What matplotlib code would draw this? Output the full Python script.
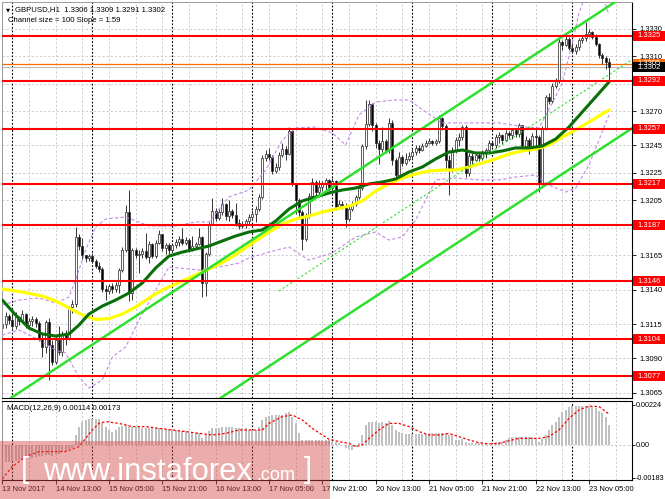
import matplotlib
matplotlib.use("Agg")
import matplotlib.pyplot as plt
import matplotlib.transforms as mtransforms
from matplotlib.patches import Rectangle
import numpy as np

plt.rcParams['font.family'] = ['Liberation Sans', 'DejaVu Sans']

# ---------------- text ----------------
symbol_title = "GBPUSD,H1  1.3306 1.3309 1.3291 1.3302"
channel_text = "Channel size = 100 Slope = 1.59"
macd_title = "MACD(12,26,9) 0.00114 0.00173"

# ---------------- candles (H1, bar 0 = 13 Nov 21:00) ----------------
first_open = 1.31121
closes = [
    1.31150, 1.31208, 1.31179, 1.31136, 1.31201, 1.31172, 1.31223, 1.31143, 1.31172, 1.31187,
    1.31158, 1.31048, 1.30983, 1.31165, 1.30997, 1.30874, 1.31034, 1.30946, 1.31078, 1.31041,
    1.31274, 1.31296, 1.31784, 1.31718, 1.31653, 1.31631, 1.31645, 1.31609, 1.31573, 1.31551,
    1.31405, 1.31391, 1.31427, 1.31405, 1.31434, 1.31543, 1.31689, 1.31966, 1.31376, 1.31689,
    1.31653, 1.31660, 1.31682, 1.31638, 1.31733, 1.31645, 1.31740, 1.31805, 1.31704, 1.31725,
    1.31689, 1.31725, 1.31747, 1.31769, 1.31740, 1.31762, 1.31696, 1.31718, 1.31733, 1.31784,
    1.31449, 1.31660, 1.31878, 1.31973, 1.31922, 1.31966, 1.32024, 1.31936, 1.31973, 1.31944,
    1.31886, 1.31864, 1.31878, 1.31900, 1.31929, 1.31951, 1.31987, 1.32075, 1.32359, 1.32388,
    1.32366, 1.32264, 1.32293, 1.32381, 1.32424, 1.32388, 1.32555, 1.32177, 1.32053, 1.31966,
    1.31769, 1.31944, 1.32082, 1.32184, 1.32111, 1.32148, 1.32170, 1.32199, 1.32140, 1.32191,
    1.32002, 1.32024, 1.32009, 1.31915, 1.31987, 1.32024, 1.32075, 1.32140, 1.32446, 1.32606,
    1.32752, 1.32599, 1.32468, 1.32424, 1.32482, 1.32417, 1.32614, 1.32344, 1.32235, 1.32366,
    1.32322, 1.32352, 1.32373, 1.32402, 1.32432, 1.32417, 1.32446, 1.32468, 1.32482, 1.32468,
    1.32482, 1.32650, 1.32592, 1.32344, 1.32286, 1.32417, 1.32490, 1.32512, 1.32584, 1.32250,
    1.32373, 1.32344, 1.32381, 1.32359, 1.32395, 1.32417, 1.32468, 1.32453, 1.32512, 1.32526,
    1.32490, 1.32541, 1.32526, 1.32563, 1.32533, 1.32599, 1.32446, 1.32490, 1.32446, 1.32519,
    1.32512, 1.32177, 1.32577, 1.32803, 1.32774, 1.32883, 1.32919, 1.33203, 1.33181, 1.33225,
    1.33159, 1.33138, 1.33167, 1.33218, 1.33233, 1.33262, 1.33276, 1.33240, 1.33189, 1.33109,
    1.33087, 1.33060, 1.33020]
highs = [
    1.31194, 1.31238, 1.31223, 1.31230, 1.31238, 1.31208, 1.31252, 1.31230, 1.31194, 1.31208,
    1.31201, 1.31172, 1.31078, 1.31179, 1.31194, 1.31034, 1.31063, 1.31136, 1.31099, 1.31107,
    1.31281, 1.31325, 1.31856, 1.31805, 1.31776, 1.31653, 1.31660, 1.31667, 1.31624, 1.31602,
    1.31565, 1.31434, 1.31442, 1.31449, 1.31456, 1.31558, 1.31711, 1.32017, 1.32126, 1.31704,
    1.31704, 1.31689, 1.31704, 1.31813, 1.31755, 1.31740, 1.31762, 1.31835, 1.31805, 1.31740,
    1.31740, 1.31740, 1.31769, 1.31791, 1.31849, 1.31784, 1.31776, 1.31791, 1.31747, 1.31849,
    1.31791, 1.31674, 1.31893, 1.32068, 1.31995, 1.31987, 1.32068, 1.32031, 1.32053, 1.31987,
    1.32031, 1.31915, 1.31900, 1.31915, 1.31951, 1.31980, 1.32009, 1.32097, 1.32381, 1.32417,
    1.32432, 1.32381, 1.32322, 1.32402, 1.32468, 1.32446, 1.32584, 1.32563, 1.32177, 1.32068,
    1.31980, 1.31958, 1.32104, 1.32213, 1.32199, 1.32199, 1.32191, 1.32213, 1.32206, 1.32213,
    1.32199, 1.32053, 1.32046, 1.32031, 1.32017, 1.32046, 1.32090, 1.32162, 1.32461, 1.32781,
    1.32781, 1.32759, 1.32614, 1.32490, 1.32584, 1.32497, 1.32650, 1.32635, 1.32359, 1.32402,
    1.32381, 1.32395, 1.32402, 1.32424, 1.32453, 1.32453, 1.32468, 1.32490, 1.32504, 1.32490,
    1.32497, 1.32672, 1.32657, 1.32606, 1.32381, 1.32439, 1.32512, 1.32541, 1.32599, 1.32599,
    1.32395, 1.32395, 1.32402, 1.32395, 1.32417, 1.32432, 1.32490, 1.32482, 1.32533, 1.32548,
    1.32533, 1.32563, 1.32555, 1.32577, 1.32555, 1.32614, 1.32599, 1.32519, 1.32504, 1.32541,
    1.32584, 1.32526, 1.32592, 1.32817, 1.32832, 1.32905, 1.32941, 1.33233, 1.33218, 1.33269,
    1.33240, 1.33218, 1.33189, 1.33233, 1.33254, 1.33349, 1.33298, 1.33284, 1.33262, 1.33196,
    1.33123, 1.33101, 1.33090]
lows = [
    1.31099, 1.31121, 1.31150, 1.31107, 1.31114, 1.31143, 1.31165, 1.31121, 1.31114, 1.31136,
    1.31128, 1.31026, 1.30910, 1.30939, 1.30743, 1.30852, 1.30859, 1.30925, 1.30917, 1.30997,
    1.31034, 1.31230, 1.31274, 1.31689, 1.31624, 1.31602, 1.31609, 1.31594, 1.31558, 1.31529,
    1.31383, 1.31325, 1.31369, 1.31376, 1.31383, 1.31376, 1.31529, 1.31674, 1.31318, 1.31325,
    1.31631, 1.31522, 1.31631, 1.31624, 1.31594, 1.31631, 1.31631, 1.31733, 1.31682, 1.31660,
    1.31660, 1.31674, 1.31704, 1.31718, 1.31725, 1.31725, 1.31674, 1.31682, 1.31696, 1.31725,
    1.31347, 1.31354, 1.31645, 1.31871, 1.31900, 1.31907, 1.31944, 1.31907, 1.31900, 1.31922,
    1.31864, 1.31842, 1.31849, 1.31849, 1.31878, 1.31907, 1.31893, 1.31973, 1.32060, 1.32337,
    1.32344, 1.32242, 1.32250, 1.32271, 1.32366, 1.32344, 1.32381, 1.32155, 1.31951, 1.31922,
    1.31689, 1.31755, 1.31922, 1.32068, 1.32082, 1.32082, 1.32119, 1.32119, 1.32119, 1.32119,
    1.31980, 1.31987, 1.31987, 1.31856, 1.31900, 1.31973, 1.32009, 1.32060, 1.32126, 1.32424,
    1.32592, 1.32555, 1.32432, 1.32315, 1.32402, 1.32395, 1.32395, 1.32308, 1.32213, 1.32220,
    1.32301, 1.32308, 1.32337, 1.32359, 1.32381, 1.32395, 1.32410, 1.32439, 1.32461, 1.32453,
    1.32453, 1.32468, 1.32563, 1.32271, 1.32090, 1.32257, 1.32395, 1.32446, 1.32490, 1.32220,
    1.32228, 1.32301, 1.32344, 1.32337, 1.32344, 1.32359, 1.32395, 1.32439, 1.32432, 1.32468,
    1.32461, 1.32483, 1.32504, 1.32497, 1.32512, 1.32512, 1.32424, 1.32432, 1.32388, 1.32439,
    1.32439, 1.32111, 1.32162, 1.32563, 1.32752, 1.32760, 1.32868, 1.32905, 1.33145, 1.33174,
    1.33145, 1.33123, 1.33116, 1.33145, 1.33196, 1.33211, 1.33240, 1.33225, 1.33174, 1.33087,
    1.33043, 1.33007, 1.32910]

# ---------------- moving averages (bar index, price) ----------------
ma_dark_bars = [0, 4, 8, 12, 16, 20, 23, 26, 30, 34, 38, 42, 46, 50, 54, 58, 62, 66, 70, 74, 78, 82, 86,
                90, 94, 98, 102, 106, 110, 114, 118, 122, 126, 130, 134, 138, 142, 146, 150, 154, 158,
                162, 166, 170, 174, 178, 182]
ma_dark = [1.31325, 1.31216, 1.31121, 1.31078, 1.31063, 1.31078, 1.31143, 1.31223, 1.31281, 1.31325,
           1.31376, 1.31449, 1.31558, 1.31645, 1.31674, 1.31696, 1.31718, 1.31755, 1.31791, 1.31820,
           1.31835, 1.31900, 1.31987, 1.32046, 1.32075, 1.32104, 1.32126, 1.32140, 1.32170, 1.32184,
           1.32206, 1.32257, 1.32293, 1.32352, 1.32402, 1.32417, 1.32395, 1.32395, 1.32410, 1.32432,
           1.32432, 1.32446, 1.32497, 1.32584, 1.32694, 1.32803, 1.32912]
ma_yellow_bars = [0, 6, 12, 16, 20, 24, 28, 32, 36, 40, 44, 48, 52, 56, 60, 64, 68, 72, 76, 80, 84, 88,
                  92, 96, 100, 104, 108, 112, 116, 120, 124, 128, 132, 136, 140, 144, 148, 152, 156,
                  160, 164, 168, 172, 176, 180, 182]
ma_yellow = [1.31405, 1.31383, 1.31354, 1.31318, 1.31267, 1.31216, 1.31183, 1.31190, 1.31223, 1.31274,
             1.31340, 1.31398, 1.31442, 1.31485, 1.31529, 1.31573, 1.31624, 1.31689, 1.31755, 1.31820,
             1.31878, 1.31915, 1.31936, 1.31966, 1.31987, 1.32009, 1.32046, 1.32119, 1.32170, 1.32213,
             1.32242, 1.32264, 1.32271, 1.32271, 1.32293, 1.32322, 1.32352, 1.32388, 1.32410, 1.32424,
             1.32453, 1.32512, 1.32563, 1.32621, 1.32679, 1.32708]

# ---------------- bands (purple dashed) ----------------
band_up_bars = [0, 5, 11, 16, 20, 22, 25, 28, 31, 37, 44, 52, 58, 62, 68, 74, 79, 84, 88, 94, 99, 103,
                107, 112, 118, 122, 127, 132, 140, 149, 157, 161, 165, 168, 171, 173, 176, 179, 181, 182]
band_up = [1.31289, 1.31325, 1.31340, 1.31303, 1.31347, 1.31471, 1.31689, 1.31856, 1.31915, 1.31929,
           1.31864, 1.31864, 1.31893, 1.31893, 1.32075, 1.32126, 1.32271, 1.32490, 1.32577, 1.32584,
           1.32541, 1.32453, 1.32672, 1.32766, 1.32781, 1.32781, 1.32694, 1.32614, 1.32614, 1.32614,
           1.32584, 1.32577, 1.32759, 1.32905, 1.33196, 1.33414, 1.33618, 1.33582, 1.33473, 1.33400]
band_lo_bars = [0, 5, 11, 16, 19, 23, 26, 30, 33, 37, 41, 46, 50, 59, 65, 71, 74, 80, 86, 92, 99, 106,
                112, 116, 120, 124, 130, 136, 143, 149, 154, 160, 164, 169, 172, 176, 179, 182]
band_lo = [1.31070, 1.31107, 1.31034, 1.30961, 1.30939, 1.30764, 1.30684, 1.30743, 1.30910, 1.30983,
           1.31179, 1.31398, 1.31565, 1.31543, 1.31565, 1.31594, 1.31631, 1.31674, 1.31711, 1.31616,
           1.31667, 1.31784, 1.31820, 1.31762, 1.31784, 1.31907, 1.32199, 1.32213, 1.32199, 1.32199,
           1.32220, 1.32235, 1.32162, 1.32111, 1.32140, 1.32308, 1.32490, 1.32672]

# ---------------- channel ----------------
channel_anchor_bar = 100
channel_anchor_mid = 1.31661
channel_size = 0.0100
channel_slope = 0.000159      # 1.59 pips per bar
channel_mid_start_bar = 83

# ---------------- levels / axis ----------------
levels = [1.3325, 1.3292, 1.3257, 1.3217, 1.3187, 1.3146, 1.3104, 1.3077]
price_ticks = [1.3330, 1.3310, 1.3290, 1.3270, 1.3245, 1.3225, 1.3205, 1.3185, 1.3165,
               1.3140, 1.3115, 1.3090, 1.3065]
bid_price = 1.3302
ask_price = 1.33045
ask_label = "1.3305"
time_labels = ["13 Nov 2017", "14 Nov 13:00", "15 Nov 05:00", "15 Nov 21:00", "16 Nov 13:00",
               "17 Nov 05:00", "17 Nov 21:00", "20 Nov 13:00", "21 Nov 05:00", "21 Nov 21:00",
               "22 Nov 13:00", "23 Nov 05:00"]
time_label_bars = [0, 16, 32, 48, 64, 80, 96, 112, 128, 144, 160, 176]
day_separator_bars = [3, 27, 51, 75, 99, 123, 147, 171]
grid_bars = list(range(0, 189, 8))

# ---------------- MACD ----------------
macd_hist = [
    -0.00100, -0.00098, -0.00095, -0.00092, -0.00088, -0.00085, -0.00080, -0.00078, -0.00075, -0.00072,
    -0.00068, -0.00062, -0.00060, -0.00055, -0.00058, -0.00060, -0.00052, -0.00050, -0.00042, -0.00040,
    -0.00025, -0.00015, 0.00056, 0.00103, 0.00131, 0.00140, 0.00146, 0.00146, 0.00146, 0.00144,
    0.00121, 0.00103, 0.00084, 0.00075, 0.00084, 0.00103, 0.00106, 0.00112, 0.00103, 0.00100,
    0.00099, 0.00098, 0.00097, 0.00096, 0.00095, 0.00094, 0.00094, 0.00093, 0.00093, 0.00088,
    0.00088, 0.00088, 0.00086, 0.00080, 0.00080, 0.00078, 0.00068, 0.00065, 0.00065, 0.00065,
    0.00037, 0.00056, 0.00080, 0.00093, 0.00093, 0.00095, 0.00103, 0.00103, 0.00103, 0.00099,
    0.00097, 0.00097, 0.00097, 0.00095, 0.00086, 0.00084, 0.00084, 0.00103, 0.00140, 0.00159,
    0.00165, 0.00168, 0.00168, 0.00168, 0.00170, 0.00177, 0.00187, 0.00159, 0.00121, 0.00065,
    0.00028, 0.00028, 0.00030, 0.00030, 0.00028, 0.00028, 0.00028, 0.00028, 0.00028, 0.00019,
    0.00019, 0.00013, 0.00000, -0.00019, -0.00024, -0.00028, -0.00009, 0.00009, 0.00056, 0.00112,
    0.00127, 0.00131, 0.00127, 0.00125, 0.00127, 0.00125, 0.00136, 0.00112, 0.00084, 0.00075,
    0.00065, 0.00062, 0.00062, 0.00062, 0.00062, 0.00062, 0.00062, 0.00062, 0.00065, 0.00065,
    0.00065, 0.00065, 0.00065, 0.00069, 0.00056, 0.00056, 0.00030, 0.00028, 0.00035, 0.00019,
    0.00009, 0.00009, 0.00009, 0.00009, 0.00009, 0.00009, 0.00000, 0.00006, 0.00019, 0.00019,
    0.00019, 0.00028, 0.00037, 0.00047, 0.00047, 0.00047, 0.00047, 0.00047, 0.00047, 0.00047,
    0.00037, 0.00019, 0.00032, 0.00056, 0.00084, 0.00112, 0.00131, 0.00159, 0.00183, 0.00196,
    0.00211, 0.00220, 0.00220, 0.00220, 0.00220, 0.00220, 0.00220, 0.00215, 0.00207, 0.00192,
    0.00177, 0.00155, 0.00114]
macd_signal_bars = [0, 3, 7, 11, 15, 19, 23, 25, 27, 29, 31, 35, 39, 43, 47, 51, 55, 59, 63, 67, 71, 75,
                    78, 80, 84, 87, 90, 93, 96, 98, 101, 104, 106, 108, 110, 113, 116, 119, 122, 125,
                    128, 131, 134, 137, 140, 143, 146, 149, 152, 155, 158, 161, 164, 167, 170, 173,
                    176, 179, 182]
macd_signal = [-0.00190, -0.00121, -0.00065, -0.00037, -0.00037, -0.00037, -0.00009, 0.00037, 0.00084,
               0.00121, 0.00131, 0.00121, 0.00103, 0.00103, 0.00093, 0.00084, 0.00075, 0.00065, 0.00056,
               0.00065, 0.00084, 0.00084, 0.00084, 0.00121, 0.00159, 0.00168, 0.00140, 0.00093, 0.00056,
               0.00032, 0.00019, 0.00009, -0.00009, 0.00000, 0.00037, 0.00084, 0.00121, 0.00121, 0.00103,
               0.00075, 0.00056, 0.00056, 0.00065, 0.00047, 0.00028, 0.00013, 0.00006, 0.00009, 0.00024,
               0.00037, 0.00037, 0.00037, 0.00047, 0.00084, 0.00149, 0.00196, 0.00218, 0.00215, 0.00173]
macd_ticks = [0.00224, 0.0, -0.00183]
macd_tick_labels = ["0.00224", "0.00", "-0.00183"]

n = len(closes)
assert len(highs) == n and len(lows) == n and len(macd_hist) == n
assert len(ma_dark) == len(ma_dark_bars) and len(ma_yellow) == len(ma_yellow_bars)
assert len(band_up) == len(band_up_bars) and len(band_lo) == len(band_lo_bars)
assert len(macd_signal) == len(macd_signal_bars)

# ---------------- figure ----------------
W, H = 665, 499
fig = plt.figure(figsize=(W / 100, H / 100), dpi=100)
fig.patch.set_facecolor('white')


def fx(px):
    return px / W


def fy(py):
    return 1 - py / H


XLIM = (-0.09, 188.9)
GRID_C = '#c4c4c4'
FS = 5.4

ax = fig.add_axes([fx(2), fy(398), (632 - 2) / W, (398 - 2) / H])
ax.set_xlim(*XLIM)
ax.set_ylim(1.30612, 1.33494)
ax.set_facecolor('white')

for t in price_ticks:
    ax.axhline(t, color=GRID_C, lw=0.6, dashes=(2.5, 2.5), zorder=0.5)
for g in grid_bars:
    ax.axvline(g, color=GRID_C, lw=0.6, dashes=(2.5, 2.5), zorder=0.5)
for d in day_separator_bars:
    ax.axvline(d, color='black', lw=0.8, dashes=(1.6, 1.6), zorder=0.6)

# bid / ask lines
ax.axhline(bid_price, color='#b8b8b8', lw=0.8, zorder=1)
ax.axhline(ask_price, color='#ff6a00', lw=0.9, zorder=1)

# candles
opens = np.array([first_open] + closes[:-1])
c = np.array(closes)
h = np.maximum.reduce([np.array(highs), opens, c])
l = np.minimum.reduce([np.array(lows), opens, c])
idx = np.arange(n)
ax.vlines(idx, l, h, color='#333333', lw=0.7, zorder=2)
bull = c >= opens
ax.bar(idx, np.abs(c - opens), bottom=np.minimum(opens, c), width=0.62,
       color=np.where(bull, 'white', 'black'), edgecolor='#333333', linewidth=0.55, zorder=2.5)

# bands
ax.plot(band_up_bars, band_up, color='#c38ae8', lw=0.8, dashes=(3, 2), zorder=3)
ax.plot(band_lo_bars, band_lo, color='#c38ae8', lw=0.8, dashes=(3, 2), zorder=3)

# moving averages
ax.plot(ma_yellow_bars, ma_yellow, color='#ffff00', lw=2.3, zorder=4, solid_capstyle='round')
ax.plot(ma_dark_bars, ma_dark, color='#0a6e0a', lw=2.2, zorder=4.5, solid_capstyle='round')

# channel
xs = np.array(XLIM)
mid = channel_anchor_mid + channel_slope * (xs - channel_anchor_bar)
ax.plot(xs, mid + channel_size / 2, color='#2ee02e', lw=1.8, zorder=5)
ax.plot(xs, mid - channel_size / 2, color='#2ee02e', lw=1.8, zorder=5)
xm = np.array([channel_mid_start_bar, XLIM[1]])
ax.plot(xm, channel_anchor_mid + channel_slope * (xm - channel_anchor_bar), color='#2ee02e',
        lw=0.8, dashes=(2, 2), zorder=5)

# levels
for lv in levels:
    ax.axhline(lv, color='#ff0000', lw=1.5, zorder=6)

# axis styling
ax.yaxis.tick_right()
ax.set_yticks(price_ticks)
ax.set_yticklabels([f"{t:.4f}" for t in price_ticks])
ax.tick_params(axis='y', length=3, width=0.6, pad=2, labelsize=FS, colors='black')
ax.set_xticks([])
for s in ['left', 'top']:
    ax.spines[s].set_color('#9a9a9a')
    ax.spines[s].set_linewidth(0.7)
for s in ['right', 'bottom']:
    ax.spines[s].set_color('black')
    ax.spines[s].set_linewidth(0.8)

# axis label boxes
bt = mtransforms.blended_transform_factory(fig.transFigure, ax.transData)
box_h = 0.00073


def axis_box(price, text, fc):
    ax.add_patch(Rectangle((fx(633), price - box_h / 2), fx(665) - fx(633), box_h, transform=bt,
                           facecolor=fc, edgecolor='none', clip_on=False, zorder=10))
    ax.text(fx(637.5), price, text, transform=bt, fontsize=5.5, color='white', va='center', ha='left',
            clip_on=False, zorder=11)


for lv in levels:
    axis_box(lv, f"{lv:.4f}", '#ff0000')
axis_box(ask_price, ask_label, '#ff6a00')
axis_box(bid_price, f"{bid_price:.4f}", '#000000')

# header texts
fig.text(fx(6), fy(11.5), '\u25bc', fontsize=3.8, family='DejaVu Sans', va='baseline')
fig.text(fx(15), fy(11.5), symbol_title, fontsize=5.6, va='baseline')
fig.text(fx(8), fy(22.5), channel_text, fontsize=5.6, va='baseline')

# ---------------- MACD panel ----------------
ax2 = fig.add_axes([fx(2), fy(480), (632 - 2) / W, (480 - 400.7) / H])
ax2.set_xlim(*XLIM)
ax2.set_ylim(-0.00196, 0.00248)
for g in grid_bars:
    ax2.axvline(g, color=GRID_C, lw=0.6, dashes=(2.5, 2.5), zorder=0.5)
for d in day_separator_bars:
    ax2.axvline(d, color='black', lw=0.8, dashes=(1.6, 1.6), zorder=0.6)
ax2.axhline(0, color=GRID_C, lw=0.6, dashes=(2.5, 2.5), zorder=0.5)
ax2.bar(idx, macd_hist, width=0.62, color='#c0c0c0', zorder=2)
ax2.plot(macd_signal_bars, macd_signal, color='#ff0000', lw=0.9, dashes=(2, 1.6), zorder=3)
ax2.yaxis.tick_right()
ax2.set_yticks(macd_ticks)
ax2.set_yticklabels(macd_tick_labels)
ax2.tick_params(axis='y', length=2, width=0.6, pad=1, labelsize=5.2)
ax2.set_xticks(time_label_bars)
ax2.set_xticklabels(time_labels)
ax2.tick_params(axis='x', length=3, width=0.6, pad=1.5, labelsize=FS)
for lbl in ax2.get_xticklabels():
    lbl.set_ha('left')
for s in ['left', 'top', 'right', 'bottom']:
    ax2.spines[s].set_color('black')
    ax2.spines[s].set_linewidth(0.8)
ax2.spines['left'].set_color('#9a9a9a')
fig.text(fx(7), fy(410.5), macd_title, fontsize=5.6, va='baseline')

# ---------------- watermark ----------------
fig.add_artist(Rectangle((0, 0), fx(330), 58 / H, transform=fig.transFigure,
                         facecolor=(0.83, 0.28, 0.28), alpha=0.45, edgecolor='none', zorder=20))
fig.text(fx(21), fy(478), '[', fontsize=21, color='white', va='baseline', zorder=21,
         fontweight='light')
fig.text(fx(43), fy(480), 'www.instaforex', fontsize=22.3, color='white', va='baseline', zorder=21)
fig.text(fx(256), fy(480), '.com', fontsize=13, color='white', va='baseline', zorder=21)
fig.text(fx(304), fy(478), ']', fontsize=21, color='white', va='baseline', zorder=21,
         fontweight='light')

fig.savefig('out.png', dpi=100, facecolor='white')
